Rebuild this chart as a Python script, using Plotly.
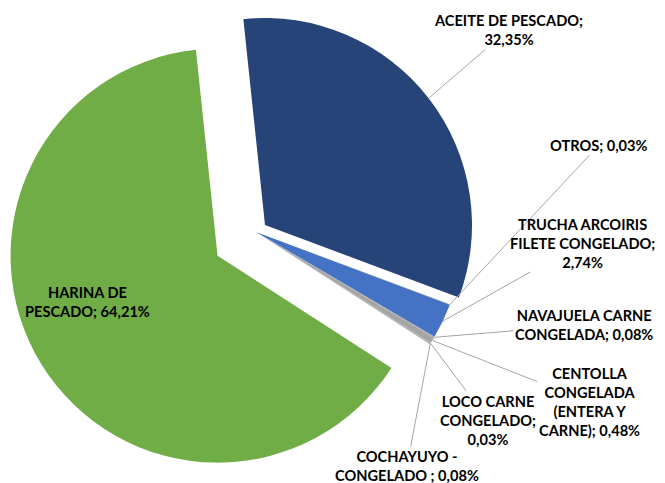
import math
import plotly.graph_objects as go

categories = ["ACEITE DE PESCADO", "OTROS", "TRUCHA ARCOIRIS FILETE CONGELADO",
              "NAVAJUELA CARNE CONGELADA", "CENTOLLA CONGELADA (ENTERA Y CARNE)",
              "LOCO CARNE CONGELADO", "COCHAYUYO - CONGELADO", "HARINA DE PESCADO"]
shares = [32.35, 0.03, 2.74, 0.08, 0.48, 0.03, 0.08, 64.21]
label_text = ["ACEITE DE PESCADO;<br>32,35%",
              "OTROS; 0,03%",
              "TRUCHA ARCOIRIS<br>FILETE CONGELADO;<br>2,74%",
              "NAVAJUELA CARNE<br>CONGELADA; 0,08%",
              "CENTOLLA<br>CONGELADA<br>(ENTERA Y<br>CARNE); 0,48%",
              "LOCO CARNE<br>CONGELADO;<br>0,03%",
              "COCHAYUYO -<br>CONGELADO ; 0,08%",
              "HARINA DE<br>PESCADO; 64,21%"]
colors = ["#264478", "#A5A5A5", "#4472C4", "#A5A5A5",
          "#A5A5A5", "#A5A5A5", "#A5A5A5", "#70AD47"]

# layout geometry (pixels, origin top-left); page body has an 8px margin
W, H = 665, 483
off = 8
R = 207
cx, cy = 256 - off, 232 - off
rot = -6
pulls = [0.055, 0, 0, 0, 0, 0, 0, 0]
harina_pull = 0.218
label_pos = [(508, 30), (599, 145), (582, 243), (584, 325),
             (589, 402), (488, 420), (407, 466), (87, 302)]

total = sum(shares)
mids = []
acc = 0
for v in shares:
    mids.append(math.radians(rot + 360 * (acc + v / 2) / total))
    acc += v


def domain(x, y, p):
    half = R * (1 + p)
    return dict(x=[(x - half) / W, (x + half) / W],
                y=[1 - (y + half) / H, 1 - (y - half) / H])


clear = "rgba(0,0,0,0)"
main_colors = colors[:-1] + [clear]
harina_colors = [clear] * (len(shares) - 1) + [colors[-1]]

# the green slice sits further out, drawn as its own trace
hx = cx + harina_pull * R * math.sin(mids[-1])
hy = cy - harina_pull * R * math.cos(mids[-1])

fig = go.Figure()
fig.add_trace(go.Pie(labels=categories, values=shares, sort=False, direction="clockwise",
                     rotation=rot, pull=pulls, textinfo="none", hoverinfo="skip",
                     marker=dict(colors=main_colors, line=dict(width=0)),
                     domain=domain(cx, cy, max(pulls))))
fig.add_trace(go.Pie(labels=categories, values=shares, sort=False, direction="clockwise",
                     rotation=rot, textinfo="none", hoverinfo="skip",
                     marker=dict(colors=harina_colors, line=dict(width=0)),
                     domain=domain(hx, hy, 0)))

for i, txt in enumerate(label_text):
    lx, ly = label_pos[i][0] - off, label_pos[i][1] - off
    if i == len(shares) - 1:
        fig.add_annotation(x=lx / W, y=1 - ly / H, xref="paper", yref="paper",
                           xanchor="center", yanchor="middle",
                           text=txt, showarrow=False)
        continue
    rr = R * (1 + pulls[i])
    tx = cx + rr * math.sin(mids[i])
    ty = cy - rr * math.cos(mids[i])
    fig.add_annotation(x=tx / W, y=1 - ty / H, xref="paper", yref="paper",
                       text=txt, showarrow=True, arrowhead=0, arrowwidth=1,
                       arrowcolor="#A6A6A6", ax=lx - tx, ay=ly - ty)

fig.update_annotations(font=dict(family="Lato", size=14.6, color="#000000", weight="bold"))
fig.update_layout(width=W, height=H, margin=dict(l=0, r=0, t=0, b=0),
                  showlegend=False, paper_bgcolor="white")
fig.write_html("out.html")
